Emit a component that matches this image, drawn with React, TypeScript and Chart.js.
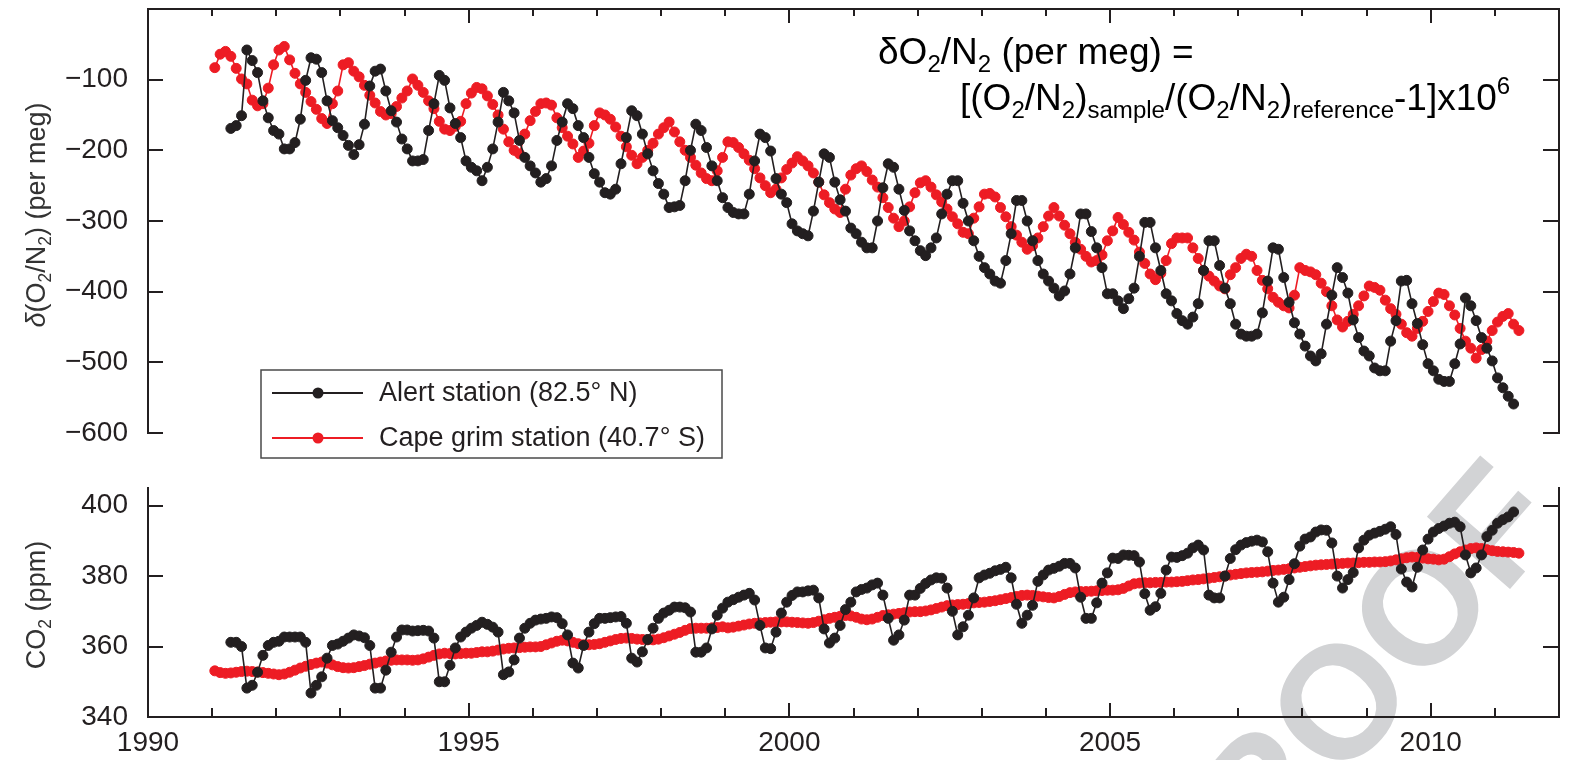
import React, { useEffect, useRef } from 'react';
import { Chart, registerables } from 'chart.js';

Chart.register(...registerables);

const INK = '#231f20';
const RED = '#ed1c24';
const FONT = '"Liberation Sans", Arial, Helvetica, sans-serif';

// ---------- axes ----------
const yearMin = 1990;
const yearMax = 2012;
const xTickLabels = [1990, 1995, 2000, 2005, 2010];
const xMinorTicks = [1991, 1992, 1993, 1994, 1995, 1996, 1997, 1998, 1999, 2000, 2001, 2002, 2003, 2004, 2005, 2006, 2007, 2008, 2009, 2010, 2011];
const o2Ticks = [-600, -500, -400, -300, -200, -100];
const co2Ticks = [340, 360, 380, 400];

const seriesLabels = ['Alert station (82.5° N)', 'Cape grim station (40.7° S)'];

// ---------- data (monthly) ----------
const alertO2Start = 1991 + 3 / 12; // April 1991
const alertO2 = [
  -169, -165, -151, -58, -73, -90, -130, -154, -172,
  -177, -198, -198, -189, -156, -101, -69, -71, -90, -130, -158, -168,
  -179, -193, -206, -192, -163, -109, -88, -85, -116, -144, -160, -184,
  -198, -215, -215, -213, -172, -134, -94, -101, -140, -162, -182, -215,
  -224, -229, -243, -224, -198, -160, -118, -130, -147, -186, -210, -222,
  -232, -245, -240, -222, -186, -160, -134, -141, -165, -182, -210, -233,
  -245, -260, -262, -255, -219, -182, -144, -151, -177, -205, -229, -247,
  -262, -281, -280, -278, -243, -200, -163, -172, -196, -222, -243, -267,
  -281, -288, -290, -290, -262, -215, -177, -182, -201, -240, -262, -274,
  -304, -314, -318, -321, -286, -245, -205, -210, -245, -270, -286, -310,
  -318, -330, -338, -338, -300, -253, -219, -224, -255, -285, -314, -328,
  -342, -349, -338, -324, -290, -262, -243, -243, -275, -300, -328, -350,
  -366, -375, -385, -388, -356, -318, -271, -271, -300, -328, -356, -375,
  -385, -395, -406, -399, -375, -338, -290, -290, -315, -338, -366, -403,
  -403, -413, -424, -410, -395, -350, -302, -302, -338, -370, -403, -413,
  -431, -441, -446, -436, -417, -370, -328, -328, -363, -395, -417, -446,
  -460, -463, -463, -460, -430, -385, -338, -340, -380, -415, -444, -460,
  -477, -491, -498, -488, -446, -405, -366, -380, -402, -440, -465, -484,
  -491, -508, -512, -512, -470, -441, -385, -384, -417, -445, -475, -502,
  -512, -524, -527, -527, -502, -474, -409, -420, -441, -465, -480, -498,
  -522, -536, -548, -559,
];

const capeGrimO2Start = 1991; // January 1991
const capeGrimO2 = [
  -83, -64, -60, -67, -84, -99, -106, -129, -137, -134, -112, -79,
  -58, -53, -72, -91, -106, -118, -131, -142, -155, -162, -134, -116,
  -79, -76, -88, -96, -108, -122, -133, -145, -150, -148, -138, -126,
  -116, -99, -108, -118, -130, -141, -159, -170, -172, -166, -159, -134,
  -119, -111, -113, -123, -135, -150, -170, -188, -200, -205, -177, -158,
  -145, -134, -133, -136, -154, -168, -180, -191, -210, -201, -190, -165,
  -147, -150, -156, -167, -180, -195, -207, -219, -210, -200, -190, -177,
  -168, -160, -174, -188, -200, -210, -221, -232, -240, -243, -229, -210,
  -188, -189, -196, -205, -214, -226, -239, -250, -260, -255, -239, -227,
  -218, -209, -215, -222, -232, -245, -263, -274, -283, -288, -255, -235,
  -226, -222, -230, -242, -252, -267, -281, -296, -308, -300, -280, -260,
  -246, -243, -252, -263, -273, -283, -294, -304, -316, -318, -296, -280,
  -262, -261, -266, -281, -294, -308, -320, -330, -340, -335, -324, -308,
  -293, -281, -293, -306, -318, -330, -340, -350, -358, -356, -348, -328,
  -314, -295, -305, -316, -327, -344, -360, -375, -383, -374, -356, -332,
  -324, -324, -324, -338, -353, -370, -378, -385, -392, -396, -376, -366,
  -353, -347, -350, -370, -384, -396, -408, -415, -420, -423, -405, -366,
  -370, -372, -376, -388, -400, -420, -440, -450, -442, -432, -420, -406,
  -392, -394, -398, -412, -424, -432, -446, -458, -463, -452, -442, -428,
  -414, -402, -404, -420, -433, -452, -470, -480, -494, -482, -470, -455,
  -443, -435, -431, -446, -455,
];

const alertCO2Start = 1991 + 3 / 12; // April 1991
const alertCO2 = [
  361.2, 361.2, 360.0, 348.2, 349.0, 352.7, 357.5, 360.3, 361.2,
  361.5, 362.7, 362.7, 362.7, 362.7, 361.2, 346.8, 349.0, 351.4, 356.7, 360.3, 360.7,
  361.5, 362.4, 363.3, 363.0, 362.5, 360.3, 348.2, 348.2, 353.3, 358.4, 362.7, 364.7,
  364.7, 364.4, 364.5, 364.6, 364.4, 362.4, 350.0, 350.0, 354.7, 359.6, 362.7, 364.1,
  365.2, 366.0, 366.9, 366.3, 365.5, 364.1, 352.0, 352.8, 356.2, 362.4, 365.2, 366.6,
  367.5, 367.8, 368.0, 368.4, 368.2, 366.5, 363.3, 355.3, 353.9, 360.3, 364.1, 366.5,
  368.0, 368.0, 368.2, 368.4, 368.5, 366.6, 356.7, 355.6, 358.5, 362.0, 365.2, 368.0,
  369.5, 370.3, 371.2, 371.2, 371.0, 369.8, 358.4, 358.4, 359.6, 365.0, 368.9, 370.9,
  372.6, 373.3, 374.0, 374.6, 375.1, 373.2, 366.0, 359.6, 359.4, 364.1, 369.5, 372.6,
  374.5, 375.5, 375.5, 375.8, 376.0, 373.8, 365.0, 361.0, 362.4, 366.0, 370.5, 372.6,
  375.5, 376.2, 376.6, 377.5, 378.0, 374.6, 368.0, 361.8, 363.3, 367.5, 374.6, 374.6,
  376.5, 377.9, 378.9, 379.5, 379.4, 376.6, 370.0, 363.3, 365.6, 368.9, 373.8, 379.5,
  380.3, 380.8, 381.5, 381.9, 382.5, 379.5, 372.0, 366.6, 368.9, 371.7, 378.5, 380.3,
  381.7, 382.2, 382.8, 383.6, 383.6, 382.3, 374.0, 368.0, 368.0, 372.4, 378.0, 380.9,
  385.1, 385.0, 386.0, 385.9, 385.8, 384.0, 375.0, 370.3, 371.3, 375.1, 381.7, 385.4,
  385.3, 385.8, 386.5, 388.0, 388.8, 387.4, 374.6, 373.8, 373.8, 380.0, 385.0, 387.5,
  388.8, 389.5, 389.9, 390.2, 389.7, 386.9, 378.0, 372.6, 374.0, 379.0, 383.5, 388.5,
  390.5, 391.1, 392.5, 393.1, 393.0, 389.4, 380.0, 376.6, 379.0, 381.0, 388.0, 390.2,
  391.6, 392.2, 392.7, 393.3, 394.0, 391.8, 382.0, 378.3, 376.9, 382.5, 387.4, 390.5,
  392.5, 393.5, 394.2, 395.0, 395.3, 394.0, 386.0, 380.9, 382.3, 386.0, 391.2, 393.0,
  395.0, 396.0, 396.8, 398.2,
];

const capeGrimCO2Start = 1991; // January 1991
const capeGrimCO2 = [
  353.1, 352.6, 352.4, 352.5, 352.7, 352.9, 353.0, 352.9, 352.8, 352.6, 352.4, 352.2,
  352.0, 352.2, 352.7, 353.3, 353.9, 354.4, 354.9, 355.3, 355.6, 355.3, 354.8, 354.3,
  354.0, 353.9, 354.0, 354.3, 354.6, 355.0, 355.3, 355.6, 355.9, 356.1, 356.2, 356.2,
  356.2, 356.1, 356.2, 356.5, 357.0, 357.5, 357.9, 358.1, 358.0, 357.9, 358.0, 358.1,
  358.1, 358.3, 358.5, 358.5, 358.7, 359.0, 359.3, 359.5, 359.6, 359.7, 359.8, 359.9,
  359.9, 360.0, 360.5, 361.0, 361.5, 361.8, 361.6, 361.2, 360.8, 360.5, 360.5, 360.6,
  360.8, 361.2, 361.6, 362.0, 362.3, 362.4, 362.3, 362.1, 362.0, 361.9, 361.9, 362.1,
  362.5, 363.0, 363.5, 364.0, 364.6, 365.1, 365.2, 365.2, 365.2, 365.3, 365.4, 365.6,
  365.3, 365.5, 365.8, 366.1, 366.4, 366.6, 366.7, 366.8, 366.9, 367.0, 367.0, 367.0,
  366.9, 366.8, 366.7, 366.6, 366.8, 367.2, 367.6, 368.0, 368.3, 368.6, 368.8, 368.7,
  368.3, 367.8, 367.6, 367.8, 368.3, 368.8, 369.0, 369.2, 369.4, 369.6, 369.8, 369.9,
  369.9, 370.1, 370.4, 370.8, 371.2, 371.6, 371.8, 371.9, 372.0, 372.2, 372.4, 372.5,
  372.6, 372.8, 373.0, 373.3, 373.6, 373.9, 374.2, 374.5, 374.6, 374.5, 374.3, 374.1,
  373.9, 373.8, 374.2, 374.8, 375.3, 375.5, 375.6, 375.6, 375.7, 375.8, 375.9, 376.0,
  376.0, 376.1, 376.5, 377.2, 377.8, 378.0, 378.1, 378.1, 378.2, 378.2, 378.3, 378.3,
  378.4, 378.5, 378.7, 378.9, 379.0, 379.2, 379.4, 379.6, 379.8, 380.0, 380.3, 380.5,
  380.7, 380.9, 381.0, 381.1, 381.2, 381.4, 381.6, 381.7, 381.9, 382.1, 382.3, 382.5,
  382.7, 382.9, 383.1, 383.2, 383.3, 383.4, 383.5, 383.6, 383.7, 383.7, 383.8, 383.9,
  383.9, 384.0, 384.0, 384.1, 384.3, 384.6, 384.9, 385.2, 385.4, 385.3, 385.1, 384.9,
  384.8, 384.6, 384.8, 385.5, 386.3, 386.9, 387.4, 387.8, 388.0, 387.8, 387.5, 387.2,
  387.0, 386.9, 386.8, 386.7, 386.5,
];

// ---------- helpers ----------
const toPoints = (start: number, vals: number[]) =>
  vals.map((y, i) => ({ x: start + (i + 0.5) / 12, y }));

type Seg = { t: string; s?: number; dy?: number; italic?: boolean };
const SUB = 0.65;

function richWidth(ctx: CanvasRenderingContext2D, segs: Seg[], size: number) {
  let w = 0;
  for (const g of segs) {
    ctx.font = `${g.italic ? 'italic ' : ''}${size * (g.s ?? 1)}px ${FONT}`;
    w += ctx.measureText(g.t).width;
  }
  return w;
}

function drawRich(ctx: CanvasRenderingContext2D, segs: Seg[], x: number, y: number, size: number, color: string, center = false) {
  const total = richWidth(ctx, segs, size);
  let cx = center ? x - total / 2 : x;
  ctx.fillStyle = color;
  ctx.textAlign = 'left';
  ctx.textBaseline = 'alphabetic';
  for (const g of segs) {
    ctx.font = `${g.italic ? 'italic ' : ''}${size * (g.s ?? 1)}px ${FONT}`;
    ctx.fillText(g.t, cx, y + (g.dy ?? 0) * size);
    cx += ctx.measureText(g.t).width;
  }
}

function framePlugin(kind: 'top' | 'bottom', yTicks: number[]) {
  return {
    id: 'frame-' + kind,
    afterDatasetsDraw(chart: any) {
      const { ctx, chartArea: a, scales } = chart;
      const xs = scales.x;
      const ys = scales.y;
      ctx.save();
      ctx.strokeStyle = INK;
      ctx.lineWidth = 2;
      ctx.lineCap = 'square';
      ctx.beginPath();
      if (kind === 'top') {
        ctx.moveTo(a.left, a.bottom);
        ctx.lineTo(a.left, a.top);
        ctx.lineTo(a.right, a.top);
        ctx.lineTo(a.right, a.bottom);
      } else {
        ctx.moveTo(a.left, a.top);
        ctx.lineTo(a.left, a.bottom);
        ctx.lineTo(a.right, a.bottom);
        ctx.lineTo(a.right, a.top);
      }
      ctx.stroke();
      ctx.lineCap = 'butt';
      ctx.beginPath();
      for (const yr of xMinorTicks) {
        const px = Math.round(xs.getPixelForValue(yr));
        const major = yr % 5 === 0;
        const len = major ? 14 : kind === 'top' ? 7 : 9;
        if (kind === 'top') {
          ctx.moveTo(px, a.top);
          ctx.lineTo(px, a.top + len);
        } else {
          ctx.moveTo(px, a.bottom);
          ctx.lineTo(px, a.bottom - len);
        }
      }
      for (const v of yTicks) {
        const py = Math.round(ys.getPixelForValue(v));
        ctx.moveTo(a.left, py);
        ctx.lineTo(a.left + 15, py);
        ctx.moveTo(a.right, py);
        ctx.lineTo(a.right - 16, py);
      }
      ctx.stroke();
      ctx.restore();
    },
  };
}

function yTitlePlugin(segs: Seg[], cx: number, cy: number, size: number) {
  return {
    id: 'ytitle',
    afterDraw(chart: any) {
      const ctx = chart.ctx as CanvasRenderingContext2D;
      ctx.save();
      ctx.translate(cx, cy);
      ctx.rotate(-Math.PI / 2);
      drawRich(ctx, segs, 0, size * 0.36, size, '#333333', true);
      ctx.restore();
    },
  };
}

const legendPlugin = {
  id: 'boxLegend',
  afterDraw(chart: any) {
    const ctx = chart.ctx as CanvasRenderingContext2D;
    const left = 261, top = 370, w = 461, h = 88;
    ctx.save();
    ctx.fillStyle = '#ffffff';
    ctx.fillRect(left, top, w, h);
    ctx.strokeStyle = '#4a4a4a';
    ctx.lineWidth = 1.5;
    ctx.strokeRect(left, top, w, h);
    const rows = [393, 438];
    chart.data.datasets.forEach((ds: any, i: number) => {
      const y = rows[i];
      ctx.strokeStyle = ds.borderColor;
      ctx.lineWidth = 2;
      ctx.beginPath();
      ctx.moveTo(272, y);
      ctx.lineTo(363, y);
      ctx.stroke();
      ctx.fillStyle = ds.borderColor;
      ctx.beginPath();
      ctx.arc(318, y, 5.5, 0, Math.PI * 2);
      ctx.fill();
      ctx.fillStyle = INK;
      ctx.font = `27px ${FONT}`;
      ctx.textBaseline = 'middle';
      ctx.textAlign = 'left';
      ctx.fillText(ds.label, 379, y + 1);
    });
    ctx.restore();
  },
};

const formulaPlugin = {
  id: 'formula',
  afterDraw(chart: any) {
    const ctx = chart.ctx as CanvasRenderingContext2D;
    const size = 37;
    const sub = (t: string): Seg => ({ t, s: SUB, dy: 0.22 });
    ctx.save();
    drawRich(ctx, [
      { t: 'δO' }, sub('2'), { t: '/N' }, sub('2'), { t: ' (per meg) =' },
    ], 878, 64, size, '#000000');
    drawRich(ctx, [
      { t: '[(O' }, sub('2'), { t: '/N' }, sub('2'), { t: ')' }, sub('sample'),
      { t: '/(O' }, sub('2'), { t: '/N' }, sub('2'), { t: ')' }, sub('reference'),
      { t: '-1]x10' }, { t: '6', s: SUB, dy: -0.42 },
    ], 960, 110, size, '#000000');
    ctx.restore();
  },
};

const watermarkPlugin = {
  id: 'watermark',
  beforeDatasetsDraw(chart: any) {
    const ctx = chart.ctx as CanvasRenderingContext2D;
    ctx.save();
    ctx.font = `bold 160px ${FONT}`;
    const wP = ctx.measureText('P').width;
    const wR = ctx.measureText('R').width;
    const wO = ctx.measureText('O').width;
    ctx.translate(1337, 260);
    ctx.rotate((-49 * Math.PI) / 180);
    ctx.fillStyle = '#d2d3d5';
    ctx.textBaseline = 'alphabetic';
    ctx.textAlign = 'left';
    ctx.fillText('PROOF', -(wP + wR + wO / 2), 160 * 0.36);
    ctx.restore();
  },
};

const datasetStyle = (color: string) => ({
  borderColor: color,
  backgroundColor: color,
  pointBackgroundColor: color,
  pointBorderColor: color,
  pointRadius: 5,
  pointBorderWidth: 1,
  borderWidth: 1.6,
  tension: 0,
});

const tickFont = { family: FONT, size: 28 };

export default function App() {
  const topRef = useRef<HTMLCanvasElement>(null);
  const botRef = useRef<HTMLCanvasElement>(null);

  useEffect(() => {
    document.body.style.margin = '0';
    const top = new Chart(topRef.current as HTMLCanvasElement, {
      type: 'line',
      data: {
        datasets: [
          { label: seriesLabels[0], data: toPoints(alertO2Start, alertO2), ...datasetStyle(INK) },
          { label: seriesLabels[1], data: toPoints(capeGrimO2Start, capeGrimO2), ...datasetStyle(RED) },
        ],
      },
      options: {
        animation: false,
        responsive: false,
        maintainAspectRatio: false,
        events: [],
        layout: { padding: { left: 0, right: 17, top: 9, bottom: 37 } },
        plugins: { legend: { display: false }, tooltip: { enabled: false } },
        scales: {
          x: { type: 'linear', min: yearMin, max: yearMax, display: false },
          y: {
            type: 'linear',
            min: -600,
            max: 0,
            grid: { display: false, drawTicks: false },
            border: { display: false },
            afterBuildTicks: (s: any) => { s.ticks = o2Ticks.map((v) => ({ value: v })); },
            afterFit: (s: any) => { s.width = 148; s.paddingTop = 0; s.paddingBottom = 0; },
            ticks: {
              font: tickFont,
              color: INK,
              padding: 20,
              callback: (v: any) => '\u2212' + Math.abs(Number(v)),
            },
          },
        },
      } as any,
      plugins: [
        framePlugin('top', o2Ticks),
        legendPlugin,
        formulaPlugin,
        yTitlePlugin(
          [{ t: 'δ', italic: true }, { t: '(O' }, { t: '2', s: SUB, dy: 0.22 }, { t: '/N' }, { t: '2', s: SUB, dy: 0.22 }, { t: ') (per meg)' }],
          35, 215, 27,
        ),
      ] as any,
    });

    const bot = new Chart(botRef.current as HTMLCanvasElement, {
      type: 'line',
      data: {
        datasets: [
          { label: seriesLabels[0], data: toPoints(alertCO2Start, alertCO2), ...datasetStyle(INK) },
          { label: seriesLabels[1], data: toPoints(capeGrimCO2Start, capeGrimCO2), ...datasetStyle(RED) },
        ],
      },
      options: {
        animation: false,
        responsive: false,
        maintainAspectRatio: false,
        events: [],
        layout: { padding: { left: 0, right: 17, top: 48, bottom: 0 } },
        plugins: { legend: { display: false }, tooltip: { enabled: false } },
        scales: {
          x: {
            type: 'linear',
            min: yearMin,
            max: yearMax,
            grid: { display: false, drawTicks: false },
            border: { display: false },
            afterBuildTicks: (s: any) => { s.ticks = xTickLabels.map((v) => ({ value: v })); },
            afterFit: (s: any) => { s.height = 43; s.paddingLeft = 0; s.paddingRight = 0; },
            ticks: {
              font: tickFont,
              color: INK,
              padding: 9,
              maxRotation: 0,
              autoSkip: false,
              callback: (v: any) => String(v),
            },
          },
          y: {
            type: 'linear',
            min: 340,
            max: 405,
            grid: { display: false, drawTicks: false },
            border: { display: false },
            afterBuildTicks: (s: any) => { s.ticks = co2Ticks.map((v) => ({ value: v })); },
            afterFit: (s: any) => { s.width = 148; s.paddingTop = 0; s.paddingBottom = 0; },
            ticks: {
              font: tickFont,
              color: INK,
              padding: 20,
              callback: (v: any) => String(v),
            },
          },
        },
      } as any,
      plugins: [
        watermarkPlugin,
        framePlugin('bottom', co2Ticks),
        yTitlePlugin(
          [{ t: 'CO' }, { t: '2', s: SUB, dy: 0.22 }, { t: ' (ppm)' }],
          35, 165, 27,
        ),
      ] as any,
    });

    return () => {
      top.destroy();
      bot.destroy();
    };
  }, []);

  return (
    <div style={{ position: 'absolute', left: 0, top: 0, width: 1576, height: 760, background: '#ffffff', overflow: 'hidden' }}>
      <canvas ref={topRef} width={1576} height={470} style={{ position: 'absolute', left: 0, top: 0, display: 'block' }} />
      <canvas ref={botRef} width={1576} height={320} style={{ position: 'absolute', left: 0, top: 440, display: 'block' }} />
    </div>
  );
}
